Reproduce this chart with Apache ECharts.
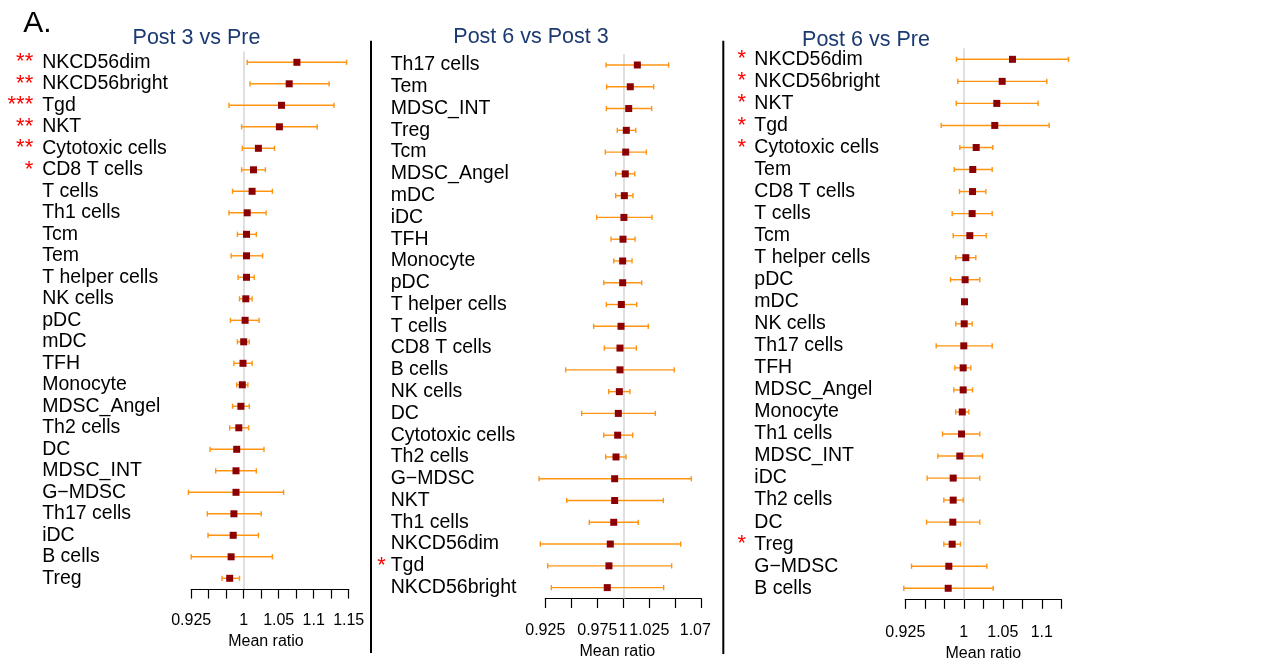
<!DOCTYPE html>
<html>
<head>
<meta charset="utf-8">
<script src="https://cdn.jsdelivr.net/npm/echarts@6/dist/echarts.min.js"></script>
<style>
html,body{margin:0;padding:0;background:#fff;}
#chart{width:1282px;height:661px;}
</style>
</head>
<body>
<div id="chart"></div>
<script>
// ---------- DATA ----------
const cats1 = ["NKCD56dim","NKCD56bright","Tgd","NKT","Cytotoxic cells","CD8 T cells","T cells","Th1 cells","Tcm","Tem","T helper cells","NK cells","pDC","mDC","TFH","Monocyte","MDSC_Angel","Th2 cells","DC","MDSC_INT","G\u2212MDSC","Th17 cells","iDC","B cells","Treg"];
const mean1 = [1.076,1.065,1.054,1.051,1.021,1.014,1.012,1.005,1.004,1.004,1.004,1.003,1.002,1.000,0.999,0.998,0.996,0.993,0.990,0.989,0.989,0.986,0.985,0.982,0.980];
const lo1 = [1.005,1.009,0.979,0.997,0.998,0.997,0.984,0.979,0.991,0.982,0.992,0.994,0.981,0.991,0.986,0.990,0.984,0.980,0.952,0.960,0.921,0.948,0.949,0.925,0.969];
const hi1 = [1.147,1.122,1.129,1.105,1.044,1.031,1.041,1.032,1.018,1.027,1.015,1.012,1.022,1.008,1.012,1.006,1.008,1.007,1.029,1.018,1.057,1.025,1.021,1.041,0.994];
const stars1 = ["**","**","***","**","**","*","","","","","","","","","","","","","","","","","","",""];

const cats2 = ["Th17 cells","Tem","MDSC_INT","Treg","Tcm","MDSC_Angel","mDC","iDC","TFH","Monocyte","pDC","T helper cells","T cells","CD8 T cells","B cells","NK cells","DC","Cytotoxic cells","Th2 cells","G\u2212MDSC","NKT","Th1 cells","NKCD56dim","Tgd","NKCD56bright"];
const mean2 = [1.0135,1.0067,1.0052,1.0029,1.0023,1.0019,1.0010,1.0006,0.9997,0.9994,0.9994,0.9981,0.9978,0.9968,0.9968,0.9962,0.9952,0.9946,0.9930,0.9917,0.9917,0.9908,0.9875,0.9862,0.9846];
const lo2 = [0.9834,0.9840,0.9837,0.9942,0.9827,0.9927,0.9927,0.9744,0.9882,0.9908,0.9812,0.9837,0.9715,0.9817,0.9446,0.9860,0.9600,0.9812,0.9831,0.9190,0.9456,0.9673,0.9202,0.9273,0.9308];
const hi2 = [1.0436,1.0292,1.0273,1.0120,1.0221,1.0110,1.0093,1.0276,1.0113,1.0084,1.0177,1.0129,1.0240,1.0125,1.0490,1.0064,1.0308,1.0090,1.0026,1.0654,1.0385,1.0144,1.0552,1.0465,1.0388];
const stars2 = ["","","","","","","","","","","","","","","","","","","","","","","","*",""];

const cats3 = ["NKCD56dim","NKCD56bright","NKT","Tgd","Cytotoxic cells","Tem","CD8 T cells","T cells","Tcm","T helper cells","pDC","mDC","NK cells","Th17 cells","TFH","MDSC_Angel","Monocyte","Th1 cells","MDSC_INT","iDC","Th2 cells","DC","Treg","G\u2212MDSC","B cells"];
const mean3 = [1.0624,1.0492,1.0423,1.0397,1.0159,1.0115,1.0112,1.0107,1.0077,1.0026,1.0017,1.0009,1.0005,1.0000,0.9992,0.9992,0.9980,0.9971,0.9949,0.9864,0.9864,0.9859,0.9851,0.9808,0.9800];
const lo3 = [0.9906,0.9923,0.9903,0.9710,0.9949,0.9877,0.9945,0.9851,0.9864,0.9897,0.9830,0.9985,0.9897,0.9646,0.9885,0.9872,0.9897,0.9727,0.9667,0.9530,0.9744,0.9522,0.9744,0.9330,0.9231];
const hi3 = [1.1342,1.1064,1.0953,1.1094,1.0372,1.0364,1.0282,1.0364,1.0287,1.0154,1.0205,1.0045,1.0107,1.0364,1.0090,1.0112,1.0064,1.0205,1.0240,1.0205,0.9992,1.0205,0.9957,1.0295,1.0377];
const stars3 = ["*","*","*","*","*","","","","","","","","","","","","","","","","","","*","",""];

const titles = ["Post 3 vs Pre","Post 6 vs Post 3","Post 6 vs Pre"];
const tickVals1 = [0.925,1,1.05,1.1,1.15];
const tickLabels1 = ["0.925","1","1.05","1.1","1.15"];
const tickVals2 = [0.925,0.975,1,1.025,1.075];
const tickLabels2 = ["0.925","0.975","1","1.025","1.07"];
const tickVals3 = [0.925,1,1.05,1.1];
const tickLabels3 = ["0.925","1","1.05","1.1"];
const axisMin = [0.925,0.925,0.925];
const axisMax = [1.15,1.075,1.125];
const xName = "Mean ratio";
const panelLetter = "A.";

// ---------- LAYOUT ----------
const layout = [
  {left:191.2, width:157.5, top:51.55, height:537.5, nameMargin:149, starMargin:158, titleX:196.5, titleY:38, nameGap:42, labelMargin:24, namePad:[0,8,0,0]},
  {left:545.3, width:156,   top:54.1,  height:544.4, nameMargin:154.6, starMargin:159.6, titleX:531, titleY:37, nameGap:42, labelMargin:24, namePad:[0,12,0,0]},
  {left:905.3, width:156,   top:48.3,  height:551,   nameMargin:151, starMargin:159.3, titleX:866, titleY:40, nameGap:44, labelMargin:25, namePad:[0,0,0,0]}
];

const panels = [
  {cats:cats1, mean:mean1, lo:lo1, hi:hi1, stars:stars1, tv:tickVals1, tl:tickLabels1},
  {cats:cats2, mean:mean2, lo:lo2, hi:hi2, stars:stars2, tv:tickVals2, tl:tickLabels2},
  {cats:cats3, mean:mean3, lo:lo3, hi:hi3, stars:stars3, tv:tickVals3, tl:tickLabels3}
];

const FONT = "'Liberation Sans', Arial, Helvetica, sans-serif";
const grid = [], xAxis = [], yAxis = [], series = [];

panels.forEach((p, i) => {
  const L = layout[i];
  grid.push({left:L.left, top:L.top, width:L.width, height:L.height, containLabel:false, outerBoundsMode:'none'});
  const labelMap = {};
  p.tv.forEach((v, k) => { labelMap[Math.round(v*1000)] = p.tl[k]; });
  xAxis.push({
    type:'value', gridIndex:i, min:axisMin[i], max:axisMax[i], interval:0.025,
    axisLine:{show:true, onZero:false, lineStyle:{color:'#000', width:1.2}},
    axisTick:{show:true, length:9.5, lineStyle:{color:'#000', width:1.2}},
    splitLine:{show:false},
    axisLabel:{
      margin:L.labelMargin, fontSize:16, color:'#000', fontFamily:FONT,
      showMinLabel:true, showMaxLabel:true, hideOverlap:false,
      formatter:(v) => {
        const t = labelMap[Math.round(v*1000)] || '';
        if (t === '1.07') return '{r|' + t + '}';
        return t;
      },
      rich:{r:{fontSize:16, color:'#000', fontFamily:FONT, padding:[0,12,0,0]}}
    },
    name:xName, nameLocation:'middle', nameGap:L.nameGap,
    nameTextStyle:{fontSize:16, color:'#000', fontFamily:FONT, padding:L.namePad}
  });
  // names axis
  yAxis.push({
    type:'category', gridIndex:i, data:p.cats, inverse:true,
    axisLine:{show:false}, axisTick:{show:false}, splitLine:{show:false},
    axisLabel:{interval:0, align:'left', margin:L.nameMargin, fontSize:19.5, color:'#000', fontFamily:FONT}
  });
  // stars axis
  yAxis.push({
    type:'category', gridIndex:i, data:p.cats, inverse:true, position:'left',
    axisLine:{show:false}, axisTick:{show:false}, splitLine:{show:false},
    axisLabel:{interval:0, align:'right', margin:L.starMargin, fontSize:22, color:'#ff0000',
      fontFamily:FONT, padding:[22,0,0,0], formatter:(v, idx) => p.stars[idx] || ''}
  });
  const ebData = p.cats.map((c, k) => [c, p.lo[k], p.hi[k]]);
  series.push({
    type:'custom', xAxisIndex:i, yAxisIndex:2*i, z:2, silent:true,
    data:ebData,
    encode:{y:0, x:[1,2]},
    renderItem:(params, api) => {
      const yi = api.value(0);
      const a = api.coord([api.value(1), yi]);
      const b = api.coord([api.value(2), yi]);
      const h = 2.6;
      const st = {stroke:'#FF9412', lineWidth:1.4};
      return {type:'group', children:[
        {type:'line', shape:{x1:a[0], y1:a[1], x2:b[0], y2:b[1]}, style:st},
        {type:'line', shape:{x1:a[0], y1:a[1]-h, x2:a[0], y2:a[1]+h}, style:st},
        {type:'line', shape:{x1:b[0], y1:b[1]-h, x2:b[0], y2:b[1]+h}, style:st}
      ]};
    },
    markLine:{
      silent:true, z:1, symbol:['none','none'], label:{show:false},
      lineStyle:{color:'#d6d6d6', width:1.5, type:'solid'},
      emphasis:{disabled:true},
      data:[{xAxis:1}]
    }
  });
  series.push({
    type:'scatter', xAxisIndex:i, yAxisIndex:2*i, z:3, silent:true,
    symbol:'rect', symbolSize:7,
    itemStyle:{color:'#8B0000', opacity:1},
    data:p.cats.map((c, k) => [p.mean[k], c])
  });
});

const graphic = [
  {type:'text', style:{x:37.5, y:24, text:panelLetter, fill:'#000', font:'30px ' + FONT, textAlign:'center', textVerticalAlign:'middle'}},
  {type:'line', shape:{x1:371, y1:40.7, x2:371, y2:653}, style:{stroke:'#000', lineWidth:2}},
  {type:'line', shape:{x1:723.3, y1:40.7, x2:723.3, y2:654}, style:{stroke:'#000', lineWidth:2}}
];
titles.forEach((t, i) => {
  graphic.push({type:'text', style:{x:layout[i].titleX, y:layout[i].titleY, text:t, fill:'#1c3a72',
    font:'21.5px ' + FONT, textAlign:'center', textVerticalAlign:'middle'}});
});

const chart = echarts.init(document.getElementById('chart'), null, {renderer:'canvas'});
chart.setOption({
  animation:false,
  backgroundColor:'#fff',
  textStyle:{fontFamily:FONT},
  grid, xAxis, yAxis, series, graphic
});
</script>
</body>
</html>
